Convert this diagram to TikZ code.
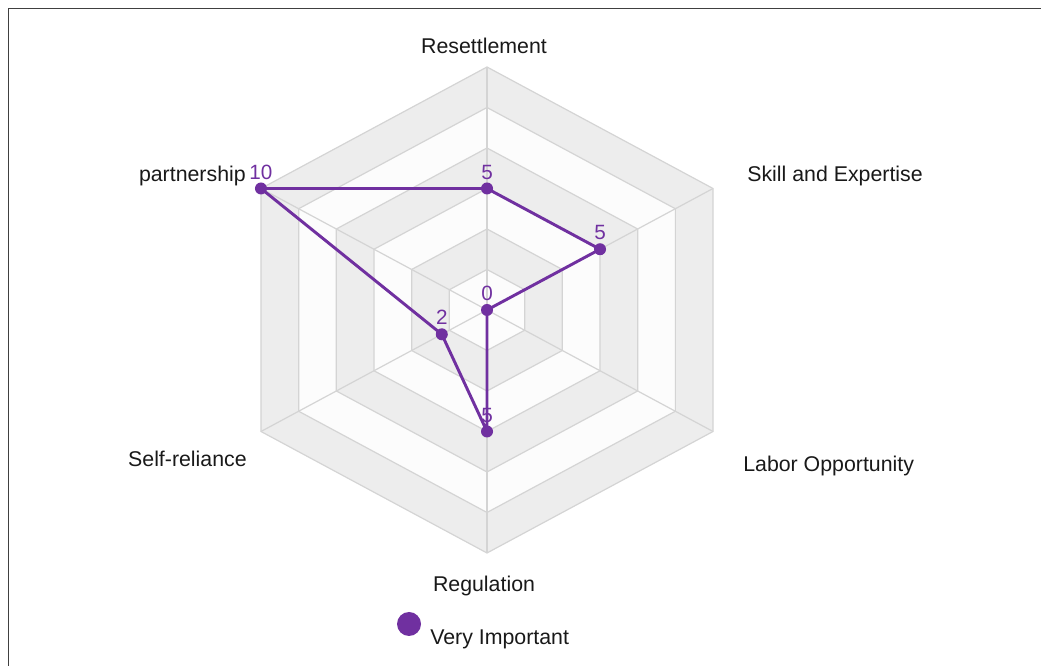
\documentclass[tikz,border=0pt]{standalone}
\usepackage{fontspec}
\setmainfont{Liberation Sans}
\definecolor{vio}{HTML}{7030A0}
\definecolor{ringgray}{HTML}{EDEDED}
\definecolor{ringwhite}{HTML}{FCFCFC}
\definecolor{gridline}{HTML}{D4D4D4}
\definecolor{frameline}{HTML}{404040}
\tikzset{
  axislabel/.style={font=\fontsize{16}{19}\selectfont,text=black!90,inner sep=0},
  vallabel/.style={font=\fontsize{15.5}{18}\selectfont,text=vio,inner sep=0,anchor=base,yshift=7pt},
  datapt/.style={circle,fill=vio,inner sep=0,minimum size=9pt},
}
\begin{document}
\begin{tikzpicture}[x=0.75pt,y=0.75pt]
\useasboundingbox(0,0)rectangle(1041,666);
\draw[frameline,line width=1.3pt](8.5,0)--(8.5,657.5)--(1041,657.5);
\begin{scope}[shift={(487,356)},xscale=1.074]
% rings, outer first
\foreach \k in {6,...,1}{
  \pgfmathsetmacro\r{40.5*\k}
  \ifodd\k\def\fc{ringwhite}\else\def\fc{ringgray}\fi
  \filldraw[fill=\fc,draw=gridline,line width=0.9pt](90:\r)--(30:\r)--(-30:\r)--(-90:\r)--(-150:\r)--(150:\r)--cycle;
}
\foreach \a in {90,30,-30,-90,-150,150}
  \draw[gridline,line width=0.9pt](0,0)--(\a:243);
% values, 24.3 per unit
\coordinate(res)at(90:5*24.3);
\coordinate(skill)at(30:5*24.3);
\coordinate(lab)at(0,0);
\coordinate(reg)at(-90:5*24.3);
\coordinate(self)at(-150:2*24.3);
\coordinate(part)at(150:10*24.3);
\end{scope}
\draw[vio,line width=2.2pt,line join=round](part)--(res)--(skill)--(lab)--(reg)--(self)--cycle;
\foreach \p/\v in {res/5,skill/5,lab/0,reg/5,self/2,part/10}{
  \node[datapt](d\p)at(\p){};
  \node[vallabel](v\p)at(\p){\v};
}
\node[axislabel,anchor=base](lres)at(484,612){Resettlement};
\node[axislabel,anchor=base west](lskill)at(747,484){Skill and Expertise};
\node[axislabel,anchor=base west](llab)at(743,194){Labor Opportunity};
\node[axislabel,anchor=base](lreg)at(484,74){Regulation};
\node[axislabel,anchor=base east](lself)at(247,199){Self-reliance};
\node[axislabel,anchor=base east](lpart)at(246,484){partnership};
% legend
\node[circle,fill=vio,inner sep=0,minimum size=18pt](key)at(409,42){};
\node[axislabel,anchor=base west](keytext)at(430,21){Very Important};
\end{tikzpicture}
\end{document}
